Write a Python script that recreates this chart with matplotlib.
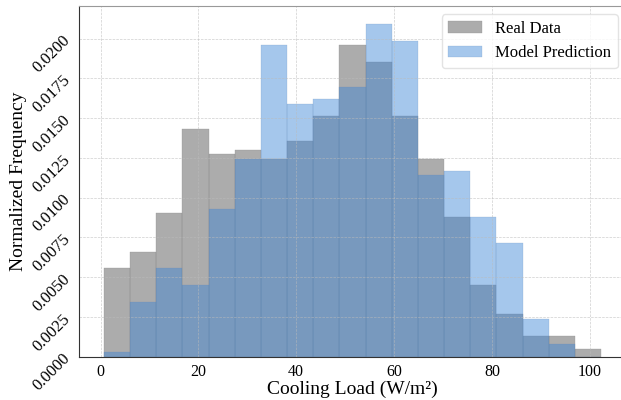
import numpy as np
import matplotlib
matplotlib.use("Agg")
import matplotlib.pyplot as plt

plt.rcParams['font.family'] = ['Liberation Serif', 'DejaVu Serif']

# Shared bin edges (19 bins) for both distributions
bin_edges = np.linspace(0.68, 102.3, 20)

# Normalized frequency per bin
real_density = [0.00556, 0.0066, 0.00902, 0.01434, 0.01275, 0.01298, 0.01245,
                0.01355, 0.01512, 0.0196, 0.01855, 0.01514, 0.01245, 0.00877,
                0.00449, 0.00267, 0.00132, 0.00132, 0.0005]
model_density = [0.00028, 0.00346, 0.00556, 0.00451, 0.00927, 0.01245, 0.0196,
                 0.01591, 0.01619, 0.01698, 0.02092, 0.01987, 0.01143, 0.01166,
                 0.00877, 0.00715, 0.00239, 0.0008, 0.0]

centers = (bin_edges[:-1] + bin_edges[1:]) / 2

fig = plt.figure(figsize=(6.21, 4.0), dpi=100)
ax = fig.add_axes([0.1272, 0.1083, 0.8808, 0.8768])

ax.hist(centers, bins=bin_edges, weights=real_density, color='gray', alpha=0.65,
        edgecolor='#888888', linewidth=0.3, label='Real Data')
ax.hist(centers, bins=bin_edges, weights=model_density, color='#3983d5', alpha=0.45,
        edgecolor='#6a8cb8', linewidth=0.3, label='Model Prediction')

ax.set_xlim(-4.4, 107.4)
ax.set_ylim(0, 0.02205)
ax.set_xticks([0, 20, 40, 60, 80, 100])
ax.set_yticks(np.arange(0, 0.0201, 0.0025))
ax.set_yticklabels([f"{v:.4f}" for v in np.arange(0, 0.0201, 0.0025)])
ax.tick_params(axis='both', length=0)
ax.tick_params(axis='x', labelsize=11.5, pad=5)
ax.tick_params(axis='y', rotation=45, labelsize=12, pad=4)

ax.set_xlabel('Cooling Load (W/m²)', fontsize=14, labelpad=1)
ax.set_ylabel('Normalized Frequency', fontsize=14, labelpad=2)

ax.grid(True, linestyle='--', linewidth=0.5, color='#bbbbbb', alpha=0.7)

for side in ['left', 'bottom']:
    ax.spines[side].set_color('#333333')
for side in ['top', 'right']:
    ax.spines[side].set_color('#999999')

ax.legend(loc='upper right', fontsize=12, frameon=True, edgecolor='#dddddd')

fig.savefig('out.png', dpi=100)
